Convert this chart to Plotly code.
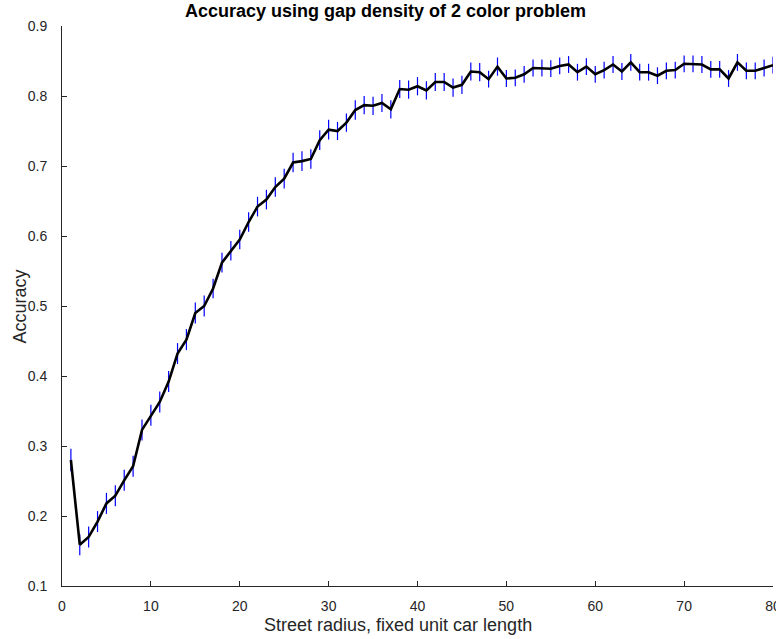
import plotly.graph_objects as go

# Street radius (fixed unit car length)
radius = list(range(1, 81))

# Mean accuracy per radius
accuracy = [
    0.280, 0.159, 0.170, 0.192, 0.218, 0.229, 0.251, 0.271, 0.323, 0.344,
    0.363, 0.392, 0.432, 0.452, 0.490, 0.500, 0.525, 0.562, 0.579, 0.595,
    0.620, 0.642, 0.652, 0.670, 0.682, 0.705, 0.707, 0.710, 0.737, 0.752,
    0.750, 0.762, 0.780, 0.787, 0.786, 0.790, 0.781, 0.810, 0.809, 0.814,
    0.808, 0.820, 0.820, 0.812, 0.816, 0.835, 0.834, 0.824, 0.842, 0.825,
    0.826, 0.831, 0.840, 0.840, 0.839, 0.843, 0.845, 0.834, 0.842, 0.831,
    0.837, 0.845, 0.835, 0.848, 0.834, 0.834, 0.829, 0.836, 0.837, 0.846,
    0.846, 0.845, 0.838, 0.838, 0.825, 0.848, 0.836, 0.836, 0.840, 0.844,
]

# Half-width of the error bar at each radius
spread = [
    0.016, 0.015, 0.015, 0.015, 0.015, 0.015, 0.015, 0.015, 0.015, 0.015,
    0.015, 0.015, 0.015, 0.015, 0.015, 0.015, 0.014, 0.014, 0.014, 0.014,
    0.014, 0.014, 0.014, 0.014, 0.014, 0.014, 0.014, 0.014, 0.014, 0.014,
    0.013, 0.013, 0.014, 0.013, 0.013, 0.013, 0.013, 0.013, 0.013, 0.013,
    0.013, 0.013, 0.013, 0.013, 0.013, 0.013, 0.013, 0.012, 0.013, 0.012,
    0.012, 0.012, 0.012, 0.012, 0.012, 0.012, 0.012, 0.012, 0.012, 0.012,
    0.012, 0.012, 0.012, 0.012, 0.012, 0.012, 0.012, 0.012, 0.012, 0.012,
    0.012, 0.012, 0.012, 0.012, 0.012, 0.012, 0.012, 0.012, 0.012, 0.012,
]

x_ticks = [0, 10, 20, 30, 40, 50, 60, 70, 80]
y_ticks = [0.1, 0.2, 0.3, 0.4, 0.5, 0.6, 0.7, 0.8, 0.9]
y_tick_text = ["0.1", "0.2", "0.3", "0.4", "0.5", "0.6", "0.7", "0.8", "0.9"]

title_text = "Accuracy using gap density of 2 color problem"
x_title = "Street radius, fixed unit car length"
y_title = "Accuracy"

axis_color = "#262626"
font_family = "Liberation Sans, Arial, sans-serif"
W, H = 776, 639
L, R, T, B = 62, 3, 26, 53
PW, PH = W - L - R, H - T - B


def px_to_paper(px, py):
    """Convert a pixel position on the page to paper coordinates."""
    return (px - L) / PW, (H - B - py) / PH


fig = go.Figure()

# Error bars (drawn first so the mean line sits on top)
fig.add_trace(go.Scatter(
    x=radius, y=accuracy,
    mode="markers",
    marker=dict(size=0.1, color="rgba(0,0,0,0)"),
    error_y=dict(type="data", array=spread, color="#0000ff",
                 thickness=1.2, width=0),
    hoverinfo="skip",
    showlegend=False,
))

# Mean accuracy line
fig.add_trace(go.Scatter(
    x=radius, y=accuracy,
    mode="lines",
    line=dict(color="black", width=2.6),
    showlegend=False,
))

axis_common = dict(
    showgrid=False,
    zeroline=False,
    showline=True,
    linecolor=axis_color,
    linewidth=1,
    ticks="inside",
    ticklen=5,
    tickwidth=1,
    tickcolor=axis_color,
    tickfont=dict(family=font_family, size=14, color=axis_color),
    ticklabeloverflow="allow",
    automargin=False,
    mirror=False,
)

tx, ty = px_to_paper(385, 11)
xx, xy = px_to_paper(398, 625)
yx, yy = px_to_paper(19.5, 307)

fig.update_layout(
    width=W,
    height=H,
    margin=dict(l=L, r=R, t=T, b=B, autoexpand=False),
    paper_bgcolor="white",
    plot_bgcolor="white",
    font=dict(family=font_family, color=axis_color),
    xaxis=dict(range=[0, 80], tickvals=x_ticks, ticklabelstandoff=7,
               **axis_common),
    yaxis=dict(range=[0.1, 0.9], tickvals=y_ticks, ticktext=y_tick_text,
               ticklabelstandoff=11, **axis_common),
    annotations=[
        dict(text="<b>" + title_text + "</b>", xref="paper", yref="paper",
             x=tx, y=ty, xanchor="center", yanchor="middle",
             showarrow=False,
             font=dict(family=font_family, size=18, color="black")),
        dict(text=x_title, xref="paper", yref="paper",
             x=xx, y=xy, xanchor="center", yanchor="middle",
             showarrow=False,
             font=dict(family=font_family, size=18, color=axis_color)),
        dict(text=y_title, xref="paper", yref="paper",
             x=yx, y=yy, xanchor="center", yanchor="middle", textangle=-90,
             showarrow=False,
             font=dict(family=font_family, size=18, color=axis_color)),
    ],
)

fig.write_html("out.html")
